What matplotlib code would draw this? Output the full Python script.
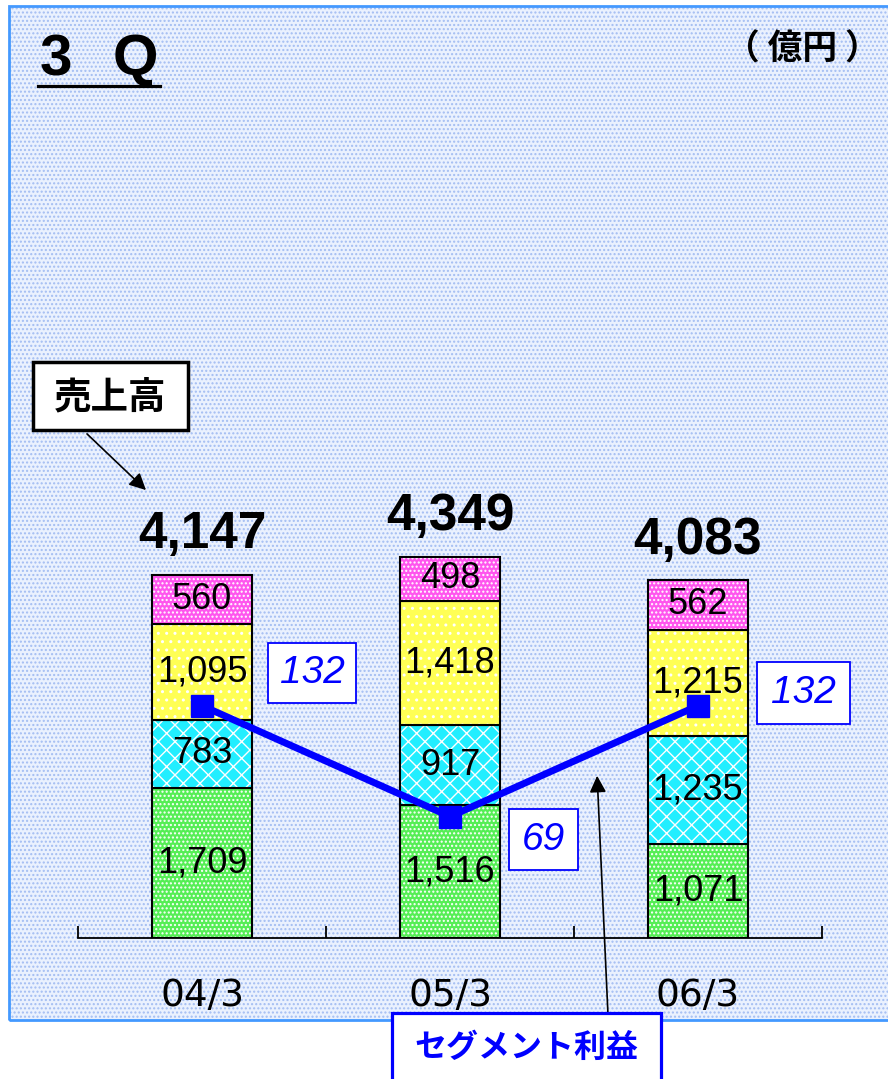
import matplotlib.pyplot as plt
from matplotlib.patches import Rectangle
import numpy as np

# data (億円)
years = ['04/3', '05/3', '06/3']
green = [1709, 1516, 1071]
cyan = [783, 917, 1235]
yellow = [1095, 1418, 1215]
pink = [560, 498, 562]
totals = [4147, 4349, 4083]
profit = [132, 69, 132]

W, H = 888, 1079

def fx(x):
    return x / W

def fy(y):
    return 1 - y / H

jp = ['Noto Sans CJK JP', 'DejaVu Sans']
num = ['Liberation Sans Narrow', 'Liberation Sans', 'DejaVu Sans']
arial = ['Liberation Sans', 'DejaVu Sans']

plt.rcParams['hatch.linewidth'] = 1.0

fig = plt.figure(figsize=(W / 100, H / 100), dpi=100)

# dotted light-blue background panel
bg = Rectangle((fx(9), fy(1020)), fx(900) - fx(9), fy(6) - fy(1020),
               transform=fig.transFigure, facecolor='#eaf1fe',
               edgecolor='#a3bdf2', hatch='....', lw=0, zorder=-5)
fig.add_artist(bg)
border = Rectangle((fx(9), fy(1020)), fx(900) - fx(9), fy(6) - fy(1020),
                   transform=fig.transFigure, fill=False,
                   edgecolor='#4499ff', lw=2, zorder=-4)
fig.add_artist(border)

ax = fig.add_axes([fx(78), fy(938), fx(822) - fx(78), fy(100) - fy(938)])
ax.set_xlim(-0.5, 2.5)
ax.set_ylim(0, 838 / 0.0876)
ax.patch.set_visible(False)

x = np.arange(len(years))
segs = [(green, '#55ee55', '....'),
        (cyan, '#22eeff', 'xx'),
        (yellow, '#ffff55', '..'),
        (pink, '#ff55ee', '....')]
bottom = np.zeros(len(years))
for vals, col, h in segs:
    ax.bar(x, vals, 0.4, bottom=bottom, color=col, hatch=h,
           edgecolor='white', linewidth=0)
    ax.bar(x, vals, 0.4, bottom=bottom, fill=False,
           edgecolor='black', linewidth=1.5)
    for i, v in enumerate(vals):
        ax.text(x[i], bottom[i] + v / 2, f'{v:,}', ha='center', va='center',
                fontsize=26, family=num, color='black')
    bottom += vals

for i, t in enumerate(totals):
    ax.annotate(f'{t:,}', (x[i], t), xytext=(0, 29), textcoords='offset points',
                ha='center', va='center', fontsize=37, fontweight='bold',
                family=arial)

for s in ['top', 'left', 'right']:
    ax.spines[s].set_visible(False)
ax.spines['bottom'].set_linewidth(1.3)
ax.set_yticks([])
ax.set_xticks([-0.5, 0.5, 1.5, 2.5])
ax.set_xticklabels([])
ax.tick_params(axis='x', which='major', direction='in', length=9, width=1.3)
ax.set_xticks(x, minor=True)
ax.set_xticklabels(years, minor=True, fontsize=27, family='DejaVu Sans')
ax.tick_params(axis='x', which='minor', length=0, pad=29)

# segment profit on its own scale
ax2 = ax.twinx()
ax2.set_ylim(0, 838 / 1.76)
ax2.axis('off')
ax2.plot(x, profit, color='#0000ff', lw=5, marker='s', ms=16, zorder=5)

# profit value boxes
for (x0, y0, x1, y1), v in zip([(268, 643, 356, 703), (509, 809, 578, 870),
                                (757, 662, 850, 724)], profit):
    fig.add_artist(Rectangle((fx(x0), fy(y1)), fx(x1) - fx(x0), fy(y0) - fy(y1),
                             transform=fig.transFigure, facecolor='white',
                             edgecolor='#0000ff', lw=1.3))
    fig.text(fx((x0 + x1) / 2), fy((y0 + y1) / 2), str(v), ha='center',
             va='center', fontsize=28, style='italic', color='#0000ff',
             family=arial)

# title and unit
fig.text(fx(40), fy(60), '3', ha='left', va='center', fontsize=42,
         fontweight='bold', family=arial)
fig.text(fx(113), fy(60), 'Q', ha='left', va='center', fontsize=42,
         fontweight='bold', family=arial)
fig.add_artist(plt.Line2D([fx(38), fx(160)], [fy(86), fy(86)], color='black',
                          lw=2.3, transform=fig.transFigure))
fig.text(fx(880), fy(49), '（ 億円 ）', ha='right', va='center', fontsize=25,
         fontweight='bold', family=jp)

# 売上高 callout
fig.add_artist(Rectangle((fx(33), fy(430)), fx(188) - fx(33), fy(362) - fy(430),
                         transform=fig.transFigure, facecolor='white',
                         edgecolor='black', lw=2.5))
fig.text(fx(110), fy(397), '売上高', ha='center', va='center', fontsize=27,
         fontweight='bold', family=jp)
ax.annotate('', xy=(148, H - 492), xycoords='figure pixels',
            xytext=(85, H - 432), textcoords='figure pixels',
            arrowprops=dict(arrowstyle='-|>', mutation_scale=25, lw=1.2,
                            color='black'))

# セグメント利益 callout
fig.add_artist(Rectangle((fx(392), fy(1090)), fx(661) - fx(392), fy(1013) - fy(1090),
                         transform=fig.transFigure, facecolor='white',
                         edgecolor='#0000ff', lw=2.3))
fig.text(fx(526), fy(1048), 'セグメント利益', ha='center', va='center',
         fontsize=23, fontweight='bold', color='#0000ff', family=jp)
ax.annotate('', xy=(597, H - 773), xycoords='figure pixels',
            xytext=(608, H - 1015), textcoords='figure pixels',
            arrowprops=dict(arrowstyle='-|>', mutation_scale=25, lw=1.2,
                            color='black'))

fig.savefig('out.png', dpi=100)
